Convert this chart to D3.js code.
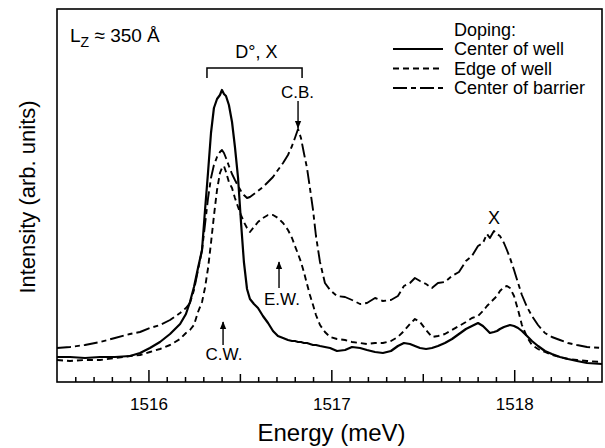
<!DOCTYPE html>
<html><head><meta charset="utf-8">
<script src="https://cdn.jsdelivr.net/npm/d3@7"></script>
<style>
body{margin:0;background:#fff}
svg{display:block}
text{font-family:"Liberation Sans",Arial,Helvetica,sans-serif;fill:#000}
</style>
</head><body>
<svg id="chart" width="605" height="448"></svg>
<script>
// ---- data (photoluminescence spectra, arb. units) ----
const energy = [
1515.500,1515.571,1515.653,1515.735,1515.817,
1515.899,1515.954,1516.008,1516.063,1516.118,
1516.173,1516.205,1516.227,1516.249,1516.271,
1516.293,1516.309,1516.326,1516.342,1516.358,
1516.375,1516.391,1516.402,1516.413,1516.424,
1516.440,1516.457,1516.473,1516.490,1516.506,
1516.522,1516.539,1516.555,1516.577,1516.599,
1516.626,1516.654,1516.681,1516.708,1516.736,
1516.763,1516.785,1516.801,1516.818,1516.834,
1516.850,1516.867,1516.883,1516.900,1516.916,
1516.938,1516.965,1516.993,1517.031,1517.075,
1517.113,1517.157,1517.195,1517.239,1517.282,
1517.326,1517.364,1517.397,1517.430,1517.457,
1517.485,1517.518,1517.550,1517.583,1517.621,
1517.660,1517.698,1517.736,1517.769,1517.802,
1517.829,1517.851,1517.867,1517.889,1517.906,
1517.922,1517.944,1517.960,1517.977,1517.999,
1518.021,1518.042,1518.070,1518.097,1518.130,
1518.168,1518.206,1518.250,1518.294,1518.343,
1518.398,1518.480];

const centerOfWell = [
25,25,24,25,25,
26,29,34,40,48,
58,68,80,95,114,
132,171,210,249,274,
283,287,292,288,286,
277,260,235,204,160,
120,93,83,78,74,
66,59,51,46,44,
42,41,41,40,40,
39,39,38,37,37,
36,35,34,31,32,
35,34,32,30,29,
31,36,39,38,36,
34,33,34,36,39,
43,48,53,56,59,
56,52,49,50,51,
53,55,56,57,56,
54,51,46,41,36,
31,28,25,23,21,
19,18];

const edgeOfWell = [
22,21,22,22,24,
26,27,30,33,37,
43,49,52,57,70,
80,94,114,139,166,
192,209,214,216,210,
200,194,184,175,167,
160,154,150,155,160,
164,167,167,164,159,
152,144,136,128,120,
110,98,87,77,67,
57,50,45,43,42,
40,39,38,39,39,
41,45,51,58,63,
60,52,45,46,48,
52,56,60,64,66,
71,76,79,83,86,
91,95,96,94,86,
72,57,45,37,33,
30,27,25,23,22,
21,20];

const centerOfBarrier = [
34,35,37,40,44,
48,50,54,57,62,
69,74,79,92,112,
132,157,184,204,217,
225,230,232,229,224,
216,208,202,196,191,
187,184,185,188,191,
195,200,205,212,219,
227,236,244,253,244,
229,214,194,172,146,
120,99,92,86,85,
82,78,79,84,81,
82,86,96,99,104,
101,98,94,99,100,
106,110,121,126,136,
139,148,144,151,148,
146,139,132,124,112,
99,87,75,66,57,
49,45,42,39,37,
35,34];

const seriesNames = ["Center of well","Edge of well","Center of barrier"];
const majorTicks = [1516, 1517, 1518];
const tickLabels = ["1516", "1517", "1518"];
const halfTicks = [1515.5, 1516.5, 1517.5];

// ---- layout ----
const svg = d3.select("#chart");
const L = 57, R = 602, T = 9, B = 382;
const x = d3.scaleLinear().domain([1515.5, 1518.48]).range([L, R]);
const y = d3.scaleLinear().domain([0, 373]).range([B, T]);

const styles = [
  {dash: null, width: 2.2},
  {dash: "6,4", width: 1.9},
  {dash: "14,4,5,4", width: 1.9}
];
const seriesData = [centerOfWell, edgeOfWell, centerOfBarrier];

// frame
svg.append("rect").attr("x", L).attr("y", T).attr("width", R - L).attr("height", B - T)
  .attr("fill", "none").attr("stroke", "#000").attr("stroke-width", 1.6);

// ticks
const minorVals = d3.range(15155, 15185).map(v => v / 10)
  .filter(v => !majorTicks.some(m => Math.abs(m - v) < 1e-6) && !halfTicks.some(m => Math.abs(m - v) < 1e-6));
function axisLayer(vals, size, labels) {
  const ax = d3.axisBottom(x).tickValues(vals).tickSizeInner(-size).tickSizeOuter(0).tickPadding(16);
  if (labels) ax.tickFormat((d, i) => labels[i]); else ax.tickFormat("");
  const g = svg.append("g").attr("transform", `translate(0,${B})`).call(ax);
  g.select(".domain").remove();
  g.selectAll("line").attr("stroke", "#000").attr("stroke-width", 1.5);
  g.selectAll("text").style("font-size", "17px").attr("fill", "#000")
    .style("font-family", '"Liberation Sans",Arial,sans-serif');
  return g;
}
axisLayer(minorVals.filter(v => v > 1515.55), 5, null);
axisLayer(halfTicks.filter(v => v > 1515.55), 8, null);
axisLayer(majorTicks, 12, tickLabels);

// curves
const line = d3.line().x((d, i) => x(energy[i])).y(d => y(d));
seriesData.forEach((s, k) => {
  svg.append("path").datum(s).attr("d", line)
    .attr("fill", "none").attr("stroke", "#000")
    .attr("stroke-width", styles[k].width)
    .attr("stroke-linejoin", "round")
    .attr("stroke-dasharray", styles[k].dash);
});

// axis titles
svg.append("text").attr("x", (L + R) / 2 + 2).attr("y", 441).attr("text-anchor", "middle")
  .style("font-size", "24px").text("Energy (meV)");
svg.append("text").attr("transform", "translate(35,197) rotate(-90)").attr("text-anchor", "middle")
  .style("font-size", "22px").text("Intensity (arb. units)");

// Lz label
const lz = svg.append("text").attr("x", 70).attr("y", 42).style("font-size", "19px");
lz.append("tspan").text("L");
lz.append("tspan").attr("dy", 5).style("font-size", "14px").text("Z");
lz.append("tspan").attr("dy", -5).text(" \u2248 350 \u00C5");

// legend
svg.append("text").attr("x", 454).attr("y", 36).style("font-size", "18px").text("Doping:");
seriesNames.forEach((name, k) => {
  const yy = 55 + k * 19.5;
  svg.append("line").attr("x1", 393).attr("x2", 443).attr("y1", yy - 6).attr("y2", yy - 6)
    .attr("stroke", "#000").attr("stroke-width", styles[k].width)
    .attr("stroke-dasharray", styles[k].dash);
  svg.append("text").attr("x", 454).attr("y", yy).style("font-size", "18px").text(name);
});

// annotations
const defs = svg.append("defs");
defs.append("marker").attr("id", "ah").attr("viewBox", "0 0 10 10").attr("refX", 9).attr("refY", 5)
  .attr("markerWidth", 8).attr("markerHeight", 8).attr("markerUnits", "userSpaceOnUse").attr("orient", "auto")
  .append("path").attr("d", "M0,1 L10,5 L0,9 Z").attr("fill", "#000");

function arrow(e, i1, i2) {
  svg.append("line").attr("x1", x(e)).attr("x2", x(e)).attr("y1", y(i1)).attr("y2", y(i2))
    .attr("stroke", "#000").attr("stroke-width", 1.4).attr("marker-end", "url(#ah)");
}
function label(e, i, t, fs) {
  svg.append("text").attr("x", x(e)).attr("y", y(i)).attr("text-anchor", "middle")
    .style("font-size", (fs || 17) + "px").text(t);
}
// bracket D°, X
const bx1 = x(1516.320), bx2 = x(1516.840), byTop = y(314), byBot = y(304);
svg.append("path").attr("d", `M${bx1},${byBot} L${bx1},${byTop} L${bx2},${byTop} L${bx2},${byBot}`)
  .attr("fill", "none").attr("stroke", "#000").attr("stroke-width", 1.5);
label(1516.590, 324, "D\u00B0, X", 18);
label(1516.815, 284, "C.B.");
arrow(1516.818, 281, 254);
label(1516.730, 77, "E.W.");
arrow(1516.714, 94, 120);
label(1516.413, 22, "C.W.");
arrow(1516.408, 37, 60);
label(1517.889, 158, "X", 18);
</script>
</body></html>
